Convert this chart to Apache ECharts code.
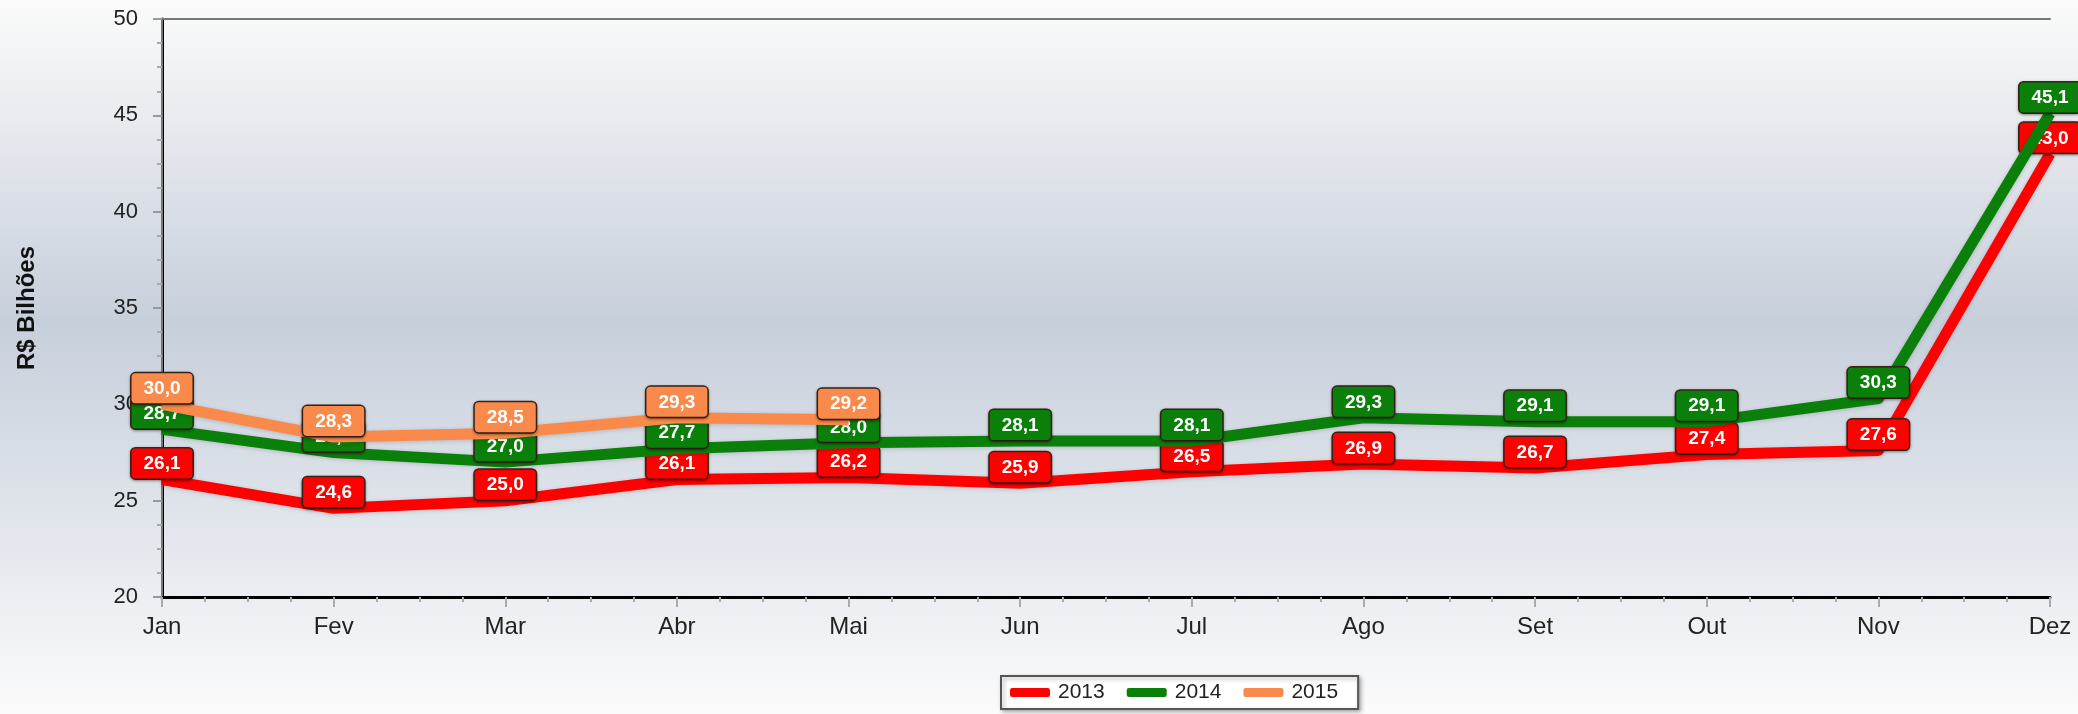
<!DOCTYPE html>
<html>
<head>
<meta charset="utf-8">
<script src="https://cdn.jsdelivr.net/npm/echarts@6/dist/echarts.min.js"></script>
<style>
html, body { margin: 0; padding: 0; }
#chart { width: 2078px; height: 714px; }
</style>
</head>
<body>
<div id="chart"></div>
<script>
var meses = ['Jan', 'Fev', 'Mar', 'Abr', 'Mai', 'Jun', 'Jul', 'Ago', 'Set', 'Out', 'Nov', 'Dez'];
var anos = ['2013', '2014', '2015'];
var valores2013 = [26.1, 24.6, 25.0, 26.1, 26.2, 25.9, 26.5, 26.9, 26.7, 27.4, 27.6, 43.0];
var valores2014 = [28.7, 27.5, 27.0, 27.7, 28.0, 28.1, 28.1, 29.3, 29.1, 29.1, 30.3, 45.1];
var valores2015 = [30.0, 28.3, 28.5, 29.3, 29.2];

var fonte = 'Liberation Sans, Arial, sans-serif';

function pontos(valores) {
	return valores.map(function(v, i) { return [i, v]; });
}

function serie(nome, valores, cor, z) {
	return {
		name : nome,
		type : 'line',
		z : z,
		data : pontos(valores),
		symbol : 'circle',
		symbolSize : 2,
		itemStyle : { color : cor },
		lineStyle : {
			color : cor,
			width : 11,
			join : 'round',
			shadowColor : 'rgba(0,0,0,0.18)',
			shadowBlur : 4,
			shadowOffsetY : 1
		},
		label : {
			show : true,
			position : 'top',
			distance : 0,
			formatter : function(p) {
				return p.value[1].toFixed(1).replace('.', ',');
			},
			color : '#fff',
			fontFamily : fonte,
			fontWeight : 'bold',
			fontSize : 19,
			backgroundColor : cor,
			borderColor : '#3a2418',
			borderWidth : 1.5,
			borderRadius : 4,
			padding : [6, 12, 5, 12],
			shadowColor : 'rgba(0,0,0,0.35)',
			shadowBlur : 3,
			shadowOffsetY : 1
		},
		emphasis : { disabled : true }
	};
}

var chart = echarts.init(document.getElementById('chart'));

chart.setOption({
	animation : false,
	backgroundColor : {
		type : 'linear', x : 0, y : 0, x2 : 0, y2 : 1,
		colorStops : [
			{ offset : 0, color : '#fbfbfb' },
			{ offset : 0.45, color : '#c7cfdb' },
			{ offset : 0.85, color : '#eceff3' },
			{ offset : 1, color : '#fbfbfb' }
		]
	},
	grid : { left : 162, right : 28, top : 19, bottom : 117 },
	legend : {
		data : anos,
		left : 1001,
		top : 676,
		icon : 'roundRect',
		itemWidth : 40,
		itemHeight : 9,
		itemGap : 22,
		backgroundColor : '#fff',
		borderColor : '#555',
		borderWidth : 2,
		padding : [6, 20, 6, 9],
		textStyle : { fontSize : 21, color : '#222', fontFamily : fonte, padding : [0, 0, 0, 3] },
		shadowColor : 'rgba(0,0,0,0.3)',
		shadowBlur : 4,
		shadowOffsetX : 2,
		shadowOffsetY : 2
	},
	xAxis : [{
		type : 'value',
		min : 0,
		max : 11,
		interval : 1,
		axisLine : { show : true, lineStyle : { color : '#000', width : 3 } },
		axisTick : { show : true, length : 10, lineStyle : { color : '#aaa', width : 2 } },
		minorTick : { show : true, splitNumber : 4, length : 5, lineStyle : { color : '#aaa', width : 2 } },
		axisLabel : {
			formatter : function(v) { return meses[Math.round(v)]; },
			fontSize : 24,
			color : '#222',
			fontFamily : fonte,
			margin : 18
		},
		splitLine : { show : false }
	}, {
		type : 'value',
		position : 'top',
		min : 0,
		max : 11,
		axisLine : { show : true, lineStyle : { color : '#777', width : 2 } },
		axisTick : { show : false },
		axisLabel : { show : false },
		splitLine : { show : false }
	}],
	yAxis : [{
		type : 'value',
		min : 20,
		max : 50,
		interval : 5,
		offset : 7,
		name : 'R$ Bilhões',
		nameLocation : 'middle',
		nameGap : 116,
		nameTextStyle : { fontWeight : 'bold', fontSize : 24, color : '#111', fontFamily : fonte },
		axisLine : { show : true, lineStyle : { color : '#000', width : 3 } },
		axisTick : { show : true, length : 9, lineStyle : { color : '#999', width : 2 } },
		minorTick : { show : true, splitNumber : 4, length : 5, lineStyle : { color : '#aaa', width : 2 } },
		axisLabel : { fontSize : 22, color : '#222', fontFamily : fonte, margin : 17, padding : [8, 0, 0, 0] },
		splitLine : { show : false }
	}, {
		type : 'value',
		position : 'right',
		offset : 8,
		min : 20,
		max : 50,
		axisLine : { show : true, lineStyle : { color : '#777', width : 2 } },
		axisTick : { show : false },
		axisLabel : { show : false },
		splitLine : { show : false }
	}],
	series : [
		serie('2013', valores2013, '#ff0000', 2),
		serie('2014', valores2014, '#0a7f0a', 3),
		serie('2015', valores2015, '#f98a4b', 4)
	]
});
</script>
</body>
</html>
